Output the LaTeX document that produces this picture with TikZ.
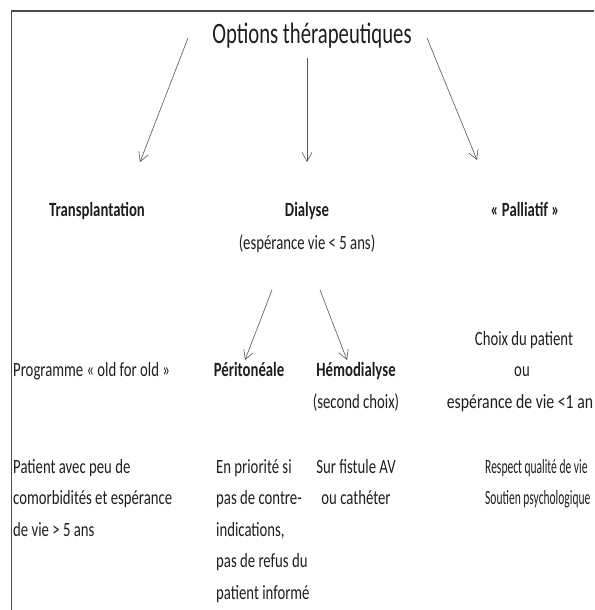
\documentclass[tikz,border=0pt]{standalone}
\usepackage{fontspec}
\setmainfont{Carlito}[FakeStretch=0.73]
\newfontfamily\titlefont{Carlito}[FakeStretch=0.7]
\newfontfamily\narrowfont{Carlito}[FakeStretch=0.57]
\newfontfamily\widefont{Carlito}[FakeStretch=0.78]
\usetikzlibrary{arrows.meta}
\definecolor{inkc}{RGB}{30,30,30}
\definecolor{arrc}{RGB}{85,85,85}
\newcommand\leftlines[1]{\parbox[t]{200pt}{\raggedright #1}}
\newcommand\midlines[1]{\parbox[t]{130pt}{\centering #1}}
\tikzset{
  txt/.style={inner sep=0pt, anchor=base, text=inkc, font=\fontsize{20.2}{31.5}\selectfont},
  bld/.style={txt, font=\fontsize{20.2}{31.5}\selectfont\bfseries},
  para/.style={txt, anchor=base west},
  arr/.style={draw=arrc, line width=0.6pt, -{Straight Barb[length=9pt,width=10pt,line width=0.6pt]}},
  frame/.style={draw=inkc!80, line width=1.8pt}
}
\begin{document}
\begin{tikzpicture}[x=1pt,y=-1pt]
\useasboundingbox (0,0) rectangle (594,610);
% frame (top and left edges)
\coordinate (fTL) at (11.5,11);
\coordinate (fTR) at (594,11);
\coordinate (fBL) at (11.5,610);
\draw[frame] (fTR) -- (fTL) -- (fBL);

% title
\node[txt, font=\titlefont\fontsize{29.6}{34}\selectfont] (title) at (312,44) {Options thérapeutiques};

% level 1
\node[bld] (transp) at (97,216) {Transplantation};
\node[bld] (dial) at (307,216) {Dialyse};
\node[txt] (dialsub) at (307,249) {(espérance vie < 5 ans)};
\node[bld] (pall) at (525,216) {« Palliatif »};

% level 2
\node[para] (prog) at (13,376) {Programme « old for old »};
\node[bld] (perit) at (249,376) {Péritonéale};
\node[bld] (hemo) at (356,376) {Hémodialyse};
\node[txt] (hemosub) at (356,408) {(second choix)};
\node[txt] (choix) at (524,345) {Choix du patient};
\node[txt] (ou) at (522,376) {ou};
\node[txt, font=\widefont\fontsize{20.2}{31.5}\selectfont] (esp) at (520,408) {espérance de vie <1 an};

% level 3
\node[para] (pat) at (13,473) {\leftlines{Patient avec peu de\\comorbidités et espérance\\de vie > 5 ans}};
\node[para] (prio) at (216,473) {\leftlines{En priorité si\\pas de contre-\\indications,\\pas de refus du\\patient informé}};
\node[txt] (fist) at (356,473) {\midlines{Sur fistule AV\\ou cathéter}};
\node[para, font=\narrowfont\fontsize{20.2}{31.5}\selectfont] (resp) at (485,473) {\leftlines{Respect qualité de vie\\Soutien psychologique}};

% arrows
\coordinate (a1s) at (188,38);  \coordinate (a1e) at (140,162);
\coordinate (a2s) at (307,58);  \coordinate (a2e) at (307,162);
\coordinate (a3s) at (427,38);  \coordinate (a3e) at (477,160);
\coordinate (a4s) at (272,290); \coordinate (a4e) at (245,360);
\coordinate (a5s) at (320,290); \coordinate (a5e) at (347,360);
\draw[arr] (a1s) -- (a1e);
\draw[arr] (a2s) -- (a2e);
\draw[arr] (a3s) -- (a3e);
\draw[arr] (a4s) -- (a4e);
\draw[arr] (a5s) -- (a5e);
\end{tikzpicture}
\end{document}
